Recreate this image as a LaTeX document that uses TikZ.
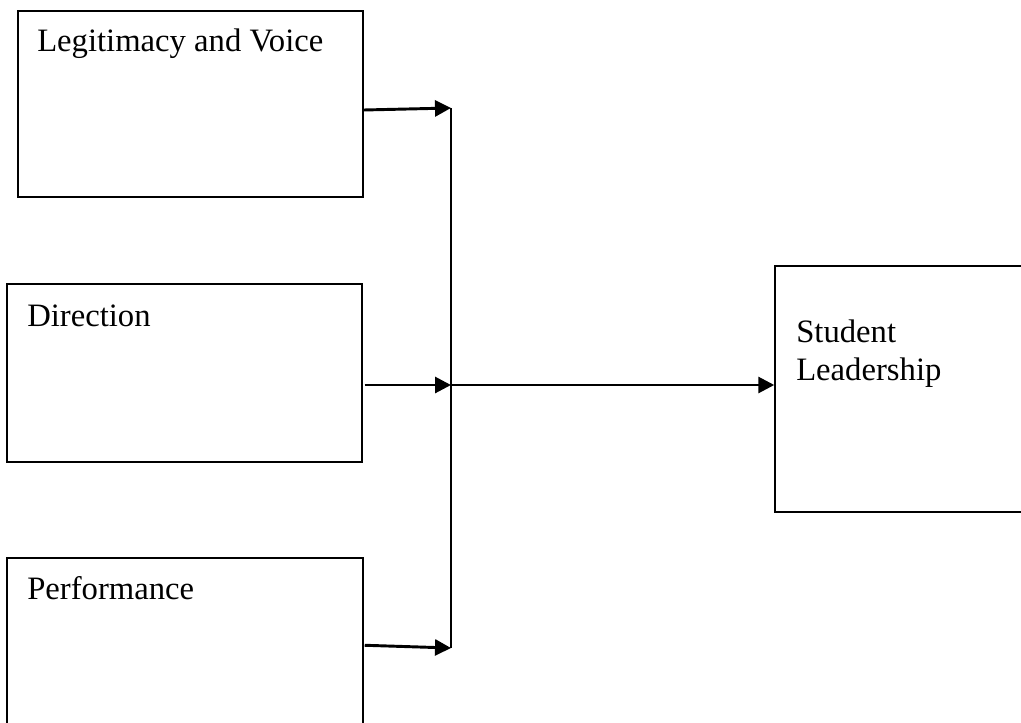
\documentclass[tikz,border=0pt]{standalone}
\usepackage{fontspec}
\setmainfont{Liberation Serif}
\usetikzlibrary{arrows.meta}
\begin{document}
\begin{tikzpicture}[x=0.75pt,y=-0.75pt,
  box/.style={draw,line width=1.1pt,rectangle,inner sep=0pt},
  lbl/.style={anchor=base west,inner sep=0pt,font=\fontsize{24.5}{28}\selectfont,align=left},
  arr/.style={line width=2.2pt,-{Triangle[length=12pt,width=12pt]}},
  ln/.style={line width=1.4pt}]
\useasboundingbox (0,0) rectangle (1021,722);
\clip (0,0) rectangle (1021,722);
% boxes
\node[box,minimum width=345*0.75pt,minimum height=186*0.75pt] (b1) at (190.5,104) {};
\node[box,minimum width=355*0.75pt,minimum height=178*0.75pt] (b2) at (184.5,373) {};
\node[box,minimum width=356*0.75pt,minimum height=200*0.75pt] (b3) at (185,658) {};
\node[box,minimum width=280*0.75pt,minimum height=246*0.75pt] (b4) at (915,389) {};
% labels
\node[lbl] (t1) at (37,51) {Legitimacy and Voice};
\node[lbl] (t2) at (27,326) {Direction};
\node[lbl] (t3) at (27,599) {Performance};
\node[lbl] (t4) at (796,342) {Student};
\node[lbl] (t5) at (796,380) {Leadership};
% junction
\coordinate (j1) at (451,108);
\coordinate (j2) at (451,385);
\coordinate (j3) at (451,648);
\draw[ln] (j1) -- (j3);
\draw[arr] ([yshift=-6*0.75pt]b1.east) -- (j1);
\draw[arr] ([xshift=1.5pt,yshift=-12*0.75pt]b2.east) -- (j2);
\draw[arr] ([xshift=0.75pt]b3.north east) ++(0,88) -- (j3);
\draw[arr] (j2) -- (b4.west |- j2);
\end{tikzpicture}
\end{document}
